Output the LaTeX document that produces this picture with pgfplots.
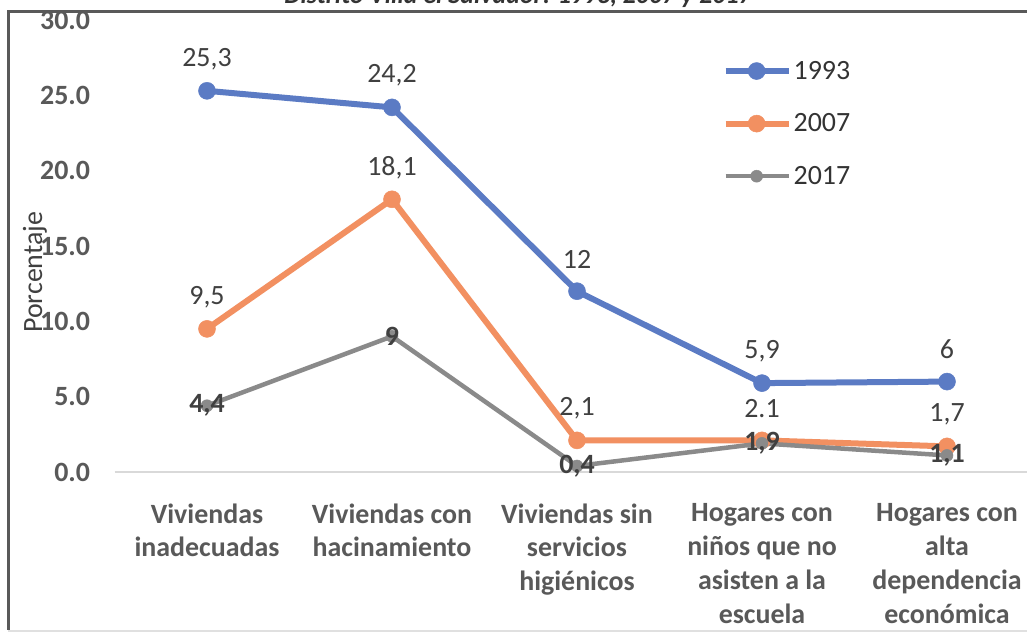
\documentclass[border=0pt]{standalone}
\usepackage{pgfplots}
\pgfplotsset{compat=1.18}
\usepackage{pgfplotstable}
\usepackage{fontspec}
\setmainfont{Carlito}
\definecolor{cblue}{HTML}{5B7BC4}
\definecolor{corange}{HTML}{F29061}
\definecolor{cgrey}{HTML}{8A8A8A}
\definecolor{ctext}{HTML}{595959}
\definecolor{clab}{HTML}{404040}

\pgfplotstableread{
x y lab
0 25.3 25,3
1 24.2 24,2
2 12 12
3 5.9 5,9
4 6 6
}\tA
\pgfplotstableread{
x y lab
0 9.5 9,5
1 18.1 18,1
2 2.1 2,1
3 2.1 2.1
4 1.7 1,7
}\tB
\pgfplotstableread{
x y lab
0 4.4 4,4
1 9 9
2 0.4 0,4
3 1.9 1,9
4 1.1 1,1
}\tC

\begin{document}
\begin{tikzpicture}
\path[use as bounding box] (0bp,0bp) rectangle (1027bp,633bp);
\clip (0bp,0bp) rectangle (1027bp,633bp);
\fill[white] (0bp,0bp) rectangle (1027bp,633bp);
\node[anchor=base, font=\bfseries\itshape\fontsize{26}{30}\selectfont, text=black!80] at (518bp,629bp) {Distrito Villa el Salvador: 1993, 2007 y 2017};
\draw[line width=3bp, color=black!65] (8bp,3bp) -- (8bp,621bp) -- (1040bp,621bp);
\draw[line width=1.5bp, color=black!12] (8bp,2bp) -- (1040bp,2bp);
\begin{axis}[
  at={(114.5bp,161bp)}, anchor=south west,
  scale only axis, width=925bp, height=452bp,
  xmin=-0.5, xmax=4.5, ymin=0, ymax=30,
  axis line style={draw=none}, tick style={draw=none},
  xtick={0,1,2,3,4},
  xticklabels={{Viviendas\\inadecuadas},{Viviendas con\\hacinamiento},{Viviendas sin\\servicios\\higiénicos},{Hogares con\\niños que no\\asisten a la\\escuela},{Hogares con\\alta\\dependencia\\económica}},
  xticklabel style={font=\bfseries\fontsize{28}{34}\selectfont, text=ctext, align=center, anchor=north, yshift=-28bp},
  ytick={0,5,...,30},
  yticklabel style={font=\bfseries\fontsize{28}{34}\selectfont, text=ctext, xshift=-21bp,
    /pgf/number format/.cd, fixed, fixed zerofill, precision=1, assume math mode=true},
  extra y ticks={0}, extra y tick labels={},
  extra y tick style={grid=major, major grid style={draw=black!15, line width=1.5bp}},
  ylabel={Porcentaje},
  ylabel style={at={(axis description cs:-0.086,0.442)}, anchor=center, font=\fontsize{28}{34}\selectfont, text=clab},
  legend style={draw=none, fill=none, at={(rel axis cs:0.654,0.918)}, anchor=north west,
    font=\fontsize{28}{34}\selectfont, text=black!80, row sep=29bp},
  legend cell align=left,
  legend image code/.code={\draw[mark repeat=2,mark phase=2,#1] plot coordinates {(0bp,0bp) (31bp,0bp) (63bp,0bp)};},
  point meta=explicit symbolic,
]
\addplot[cblue, line width=6bp, mark=*, mark size=8.5bp, mark options={solid, fill=cblue, draw=cblue, line width=0.5bp},
  nodes near coords, every node near coord/.append style={anchor=center, yshift=32bp, font=\fontsize{28}{34}\selectfont, text=clab}]
  table[x=x, y=y, meta=lab] {\tA};
\addplot[corange, line width=6bp, mark=*, mark size=8.5bp, mark options={solid, fill=corange, draw=corange, line width=0.5bp},
  nodes near coords, every node near coord/.append style={anchor=center, yshift=32bp, font=\fontsize{28}{34}\selectfont, text=clab}]
  table[x=x, y=y, meta=lab] {\tB};
\addplot[cgrey, line width=4.5bp, mark=*, mark size=6bp, mark options={solid, fill=cgrey, draw=cgrey, line width=0.5bp},
  nodes near coords, every node near coord/.append style={anchor=center, yshift=0bp, font=\bfseries\fontsize{28}{34}\selectfont, text=clab}]
  table[x=x, y=y, meta=lab] {\tC};
\legend{1993,2007,2017}
\end{axis}
\end{tikzpicture}
\end{document}
